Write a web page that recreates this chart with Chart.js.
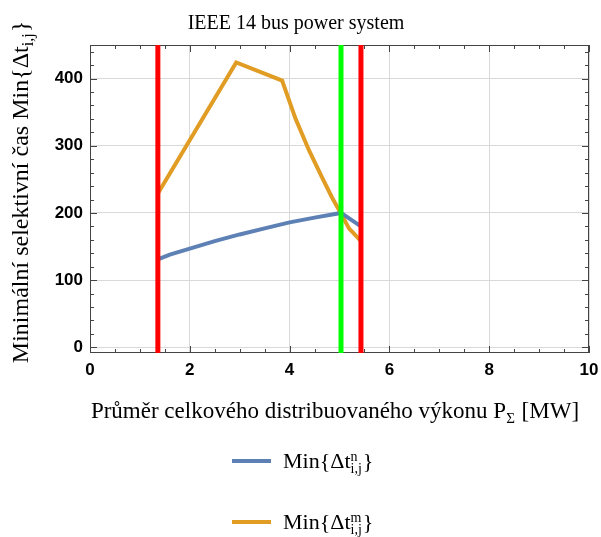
<!DOCTYPE html>
<html>
<head>
<meta charset="utf-8">
<script src="https://cdn.jsdelivr.net/npm/chart.js@4.4.0/dist/chart.umd.min.js"></script>
<style>
  html, body { margin: 0; padding: 0; background: #fff; }
  canvas { display: block; }
</style>
</head>
<body>
<canvas id="busChart" width="601" height="537"></canvas>
<script>
// minimum selective time along the mean distributed power
const blueX = [1.36, 1.6, 2.0, 2.5, 3.0, 3.5, 4.0, 4.5, 5.03, 5.43];
const blueY = [131, 138, 147, 158, 168, 177, 186, 193, 200, 180];
const orangeX = [1.36, 2.93, 3.85, 4.12, 4.39, 4.65, 4.85, 5.03, 5.19, 5.43];
const orangeY = [229, 424, 397, 340, 293, 253, 223, 199, 177, 158];

// bounds of the valid region (red) and the crossing point (green)
const redX = [1.36, 5.43];
const greenX = [5.03];

const X_MIN = 0, X_MAX = 10;
const Y_MIN = -8.5, Y_MAX = 450;

const SERIF = "'Liberation Serif', 'Times New Roman', serif";
const SANS = "'Liberation Sans', Arial, sans-serif";
const BLUE = "#5e81b5";
const ORANGE = "#e19c24";

const pts = (xs, ys) => xs.map((x, i) => ({ x, y: ys[i] }));
const vline = (x, color) => ({
    data: [{ x, y: Y_MIN }, { x, y: Y_MAX }],
    borderColor: color,
    borderWidth: 5,
    pointRadius: 0,
    showLine: true,
    order: 0,
});

// text with super/subscripts: parts are strings or {sup, sub}
function drawRich(ctx, x, y, parts, size) {
    let cx = x;
    parts.forEach(p => {
        if (typeof p === "string") {
            ctx.font = `${size}px ${SERIF}`;
            ctx.fillText(p, cx, y);
            cx += ctx.measureText(p).width;
        } else {
            ctx.font = `${Math.round(size * 0.65)}px ${SERIF}`;
            let w = 0;
            if (p.sup) { ctx.fillText(p.sup, cx, y - size * 0.33); w = Math.max(w, ctx.measureText(p.sup).width); }
            if (p.sub) { ctx.fillText(p.sub, cx, y + size * 0.22); w = Math.max(w, ctx.measureText(p.sub).width); }
            cx += w + 1;
        }
    });
    return cx - x;
}

function richWidth(ctx, parts, size) {
    ctx.save();
    ctx.globalAlpha = 0;
    const w = drawRich(ctx, 0, 0, parts, size);
    ctx.restore();
    return w;
}

const framePlugin = {
    id: "frame",
    beforeDatasetsDraw(chart) {
        const { ctx, chartArea: a, scales: { x, y } } = chart;
        ctx.save();
        ctx.strokeStyle = "#444";
        ctx.lineWidth = 1;
        ctx.strokeRect(a.left + 0.5, a.top + 0.5, a.right - a.left - 1, a.bottom - a.top - 1);
        ctx.beginPath();
        for (let v = X_MIN; v <= X_MAX + 1e-9; v += 0.5) {
            const px = Math.round(x.getPixelForValue(v)) + 0.5;
            const len = Math.abs(v % 2) < 1e-9 ? 7 : 4;
            ctx.moveTo(px, a.bottom); ctx.lineTo(px, a.bottom - len);
            ctx.moveTo(px, a.top); ctx.lineTo(px, a.top + len);
        }
        for (let v = 0; v <= Y_MAX; v += 20) {
            const py = Math.round(y.getPixelForValue(v)) + 0.5;
            const len = v % 100 === 0 ? 7 : 4;
            ctx.moveTo(a.left, py); ctx.lineTo(a.left + len, py);
            ctx.moveTo(a.right, py); ctx.lineTo(a.right - len, py);
        }
        ctx.stroke();
        ctx.restore();
    },
    afterDraw(chart) {
        const { ctx } = chart;
        ctx.save();
        ctx.fillStyle = "#000";
        ctx.textBaseline = "alphabetic";

        ctx.font = `20px ${SERIF}`;
        ctx.textAlign = "center";
        ctx.fillText("IEEE 14 bus power system", 296, 29);
        ctx.textAlign = "left";

        const xTitle = ["Průměr celkového distribuovaného výkonu P", { sub: "Σ" }, " [MW]"];
        const xw = richWidth(ctx, xTitle, 23);
        drawRich(ctx, 335 - xw / 2, 418, xTitle, 23);

        const yTitle = ["Minimální selektivní čas Min{Δt", { sub: "i,j" }, "}"];
        const yw = richWidth(ctx, yTitle, 24);
        ctx.save();
        ctx.translate(28, 192);
        ctx.rotate(-Math.PI / 2);
        drawRich(ctx, -yw / 2, 0, yTitle, 24);
        ctx.restore();

        // legend
        const legend = [
            { color: BLUE, y: 461, parts: ["Min{Δt", { sup: "n", sub: "i,j" }, "}"] },
            { color: ORANGE, y: 522, parts: ["Min{Δt", { sup: "m", sub: "i,j" }, "}"] },
        ];
        legend.forEach(item => {
            ctx.strokeStyle = item.color;
            ctx.lineWidth = 4;
            ctx.beginPath();
            ctx.moveTo(232, item.y); ctx.lineTo(271, item.y);
            ctx.stroke();
            drawRich(ctx, 283, item.y + 7, item.parts, 22);
        });
        ctx.restore();
    },
};

new Chart(document.getElementById("busChart"), {
    type: "scatter",
    data: {
        datasets: [
            vline(redX[0], "#ff0000"),
            vline(redX[1], "#ff0000"),
            vline(greenX[0], "#00ff00"),
            {
                data: pts(blueX, blueY),
                borderColor: BLUE,
                borderWidth: 4,
                pointRadius: 0,
                showLine: true,
                order: 1,
            },
            {
                data: pts(orangeX, orangeY),
                borderColor: ORANGE,
                borderWidth: 4,
                pointRadius: 0,
                showLine: true,
                order: 1,
            },
        ],
    },
    options: {
        responsive: false,
        animation: false,
        devicePixelRatio: 1,
        layout: { padding: { left: 0, top: 45, right: 12, bottom: 154 } },
        plugins: { legend: { display: false }, tooltip: { enabled: false } },
        scales: {
            x: {
                type: "linear",
                min: X_MIN,
                max: X_MAX,
                ticks: { stepSize: 2, includeBounds: false, padding: 7, color: "#000", font: { family: SANS, size: 17, weight: "bold" } },
                grid: { color: "#d9d9d9", drawTicks: false },
                border: { display: false },
                afterFit(scale) {
                    scale.height = 30;
                    scale.paddingLeft = 0;
                    scale.paddingRight = 0;
                },
            },
            y: {
                type: "linear",
                min: Y_MIN,
                max: Y_MAX,
                ticks: {
                    stepSize: 100,
                    includeBounds: false,
                    padding: 7,
                    color: "#000",
                    font: { family: SANS, size: 17, weight: "bold" },
                    callback: v => (v % 100 === 0 ? v : ""),
                },
                grid: { color: v => (v.tick && v.tick.value % 100 === 0 ? "#d9d9d9" : "transparent"), drawTicks: false },
                border: { display: false },
                afterFit(scale) {
                    scale.width = 90;
                    scale.paddingTop = 0;
                    scale.paddingBottom = 0;
                },
            },
        },
    },
    plugins: [framePlugin],
});
</script>
</body>
</html>
